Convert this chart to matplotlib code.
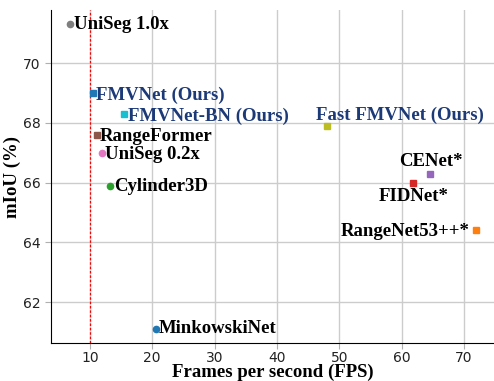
import matplotlib
matplotlib.use("Agg")
import matplotlib.pyplot as plt

names = ["UniSeg 1.0x", "FMVNet (Ours)", "FMVNet-BN (Ours)", "RangeFormer", "UniSeg 0.2x",
         "Cylinder3D", "MinkowskiNet", "Fast FMVNet (Ours)", "CENet*", "FIDNet*", "RangeNet53++*"]
fps = [6.8, 10.5, 15.4, 11.1, 11.9, 13.2, 20.6, 48.0, 64.6, 61.8, 71.9]
miou = [71.3, 69.0, 68.3, 67.6, 67.0, 65.9, 61.1, 67.9, 66.3, 66.0, 64.4]
markers = ["o", "s", "s", "s", "o", "o", "o", "s", "s", "s", "s"]
colors = ["tab:gray", "tab:blue", "tab:cyan", "tab:brown", "tab:pink", "tab:green",
          "tab:blue", "tab:olive", "tab:purple", "tab:red", "tab:orange"]
ours = [False, True, True, False, False, False, False, True, False, False, False]
# label offsets (pixels) and alignment
offsets = [(4, 0, "left"), (3, -2, "left"), (4, -2, "left"), (3, -2, "left"), (3, -2, "left"),
           (4, -1, "left"), (3, 0, "left"), (-11, 11, "left"), (-31, 12, "left"),
           (-34, -14, "left"), (-6, -1, "right")]

fig = plt.figure(figsize=(4.94, 3.81), dpi=100)
ax = fig.add_axes([0.103, 0.0997, 0.897, 0.874])

ax.axvline(10, color="red", linestyle=(0, (2, 1.5)), linewidth=0.9, zorder=1)
for i in range(len(names)):
    ax.plot(fps[i], miou[i], marker=markers[i], color=colors[i], markersize=4.5,
            linestyle="none", zorder=3)
    dx, dy, ha = offsets[i]
    ax.annotate(names[i], (fps[i], miou[i]), xytext=(dx, dy), textcoords="offset pixels",
                ha=ha, va="center", fontfamily="Liberation Serif", fontweight="bold",
                fontsize=13.5, color="#1c3a78" if ours[i] else "black", zorder=4)

ax.set_xlim(3.75, 74.8)
ax.set_ylim(60.63, 71.78)
ax.set_xticks([10, 20, 30, 40, 50, 60, 70])
ax.set_yticks([62, 64, 66, 68, 70])
ax.tick_params(labelsize=10, labelcolor="#222222", color="#b0b0b0", length=4)
ax.tick_params(axis="x", pad=2)
ax.grid(True, color="#cccccc", linewidth=1.0)
ax.set_axisbelow(True)
for s in ["top", "right"]:
    ax.spines[s].set_visible(False)
ax.set_xlabel("Frames per second (FPS)", fontfamily="Liberation Serif", fontweight="bold",
              fontsize=13.5, labelpad=-1)
ax.set_ylabel("mIoU (%)", fontfamily="Liberation Serif", fontweight="bold", fontsize=13.5,
              labelpad=1)
fig.savefig("out.png", dpi=100)
